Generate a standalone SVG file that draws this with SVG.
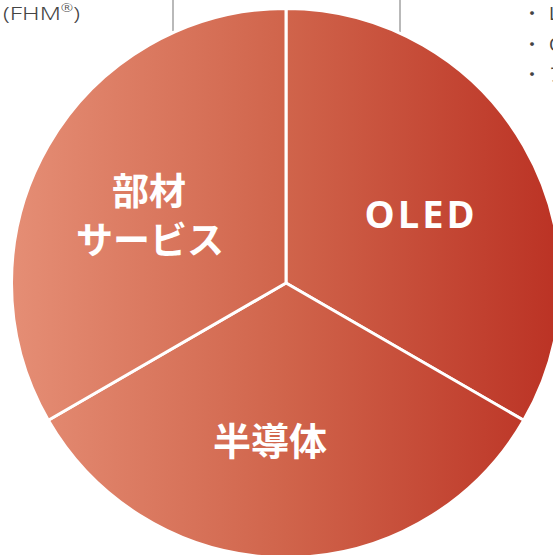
<svg xmlns="http://www.w3.org/2000/svg" width="553" height="555" viewBox="0 0 553 555">
<defs>
<linearGradient id="g" gradientUnits="userSpaceOnUse" x1="11" y1="0" x2="561" y2="0">
<stop offset="0" stop-color="#e58e75"/>
<stop offset="0.5" stop-color="#d0644b"/>
<stop offset="1" stop-color="#bb3224"/>
</linearGradient>
</defs>
<style>
.sec{fill:url(#g);stroke:#fff;stroke-width:3;stroke-linejoin:miter}
.lbl{fill:#fff;font-family:"Noto Sans CJK JP","Noto Sans",sans-serif;font-weight:bold;text-anchor:middle}
.note{fill:#444;font-family:"Noto Sans","Noto Sans CJK JP",sans-serif;font-size:18px}
.lead{stroke:#8a8a8a;stroke-width:1.2}
</style>
<g id="leaders">
<line class="lead" x1="173" y1="0" x2="173" y2="31"/>
<line class="lead" x1="400" y1="0" x2="400" y2="32"/>
</g>
<g id="note-left">
<text class="note" x="3" y="20" font-size="20" font-weight="300" textLength="77" lengthAdjust="spacingAndGlyphs">(FHM<tspan font-size="11" dy="-8">®</tspan><tspan dy="8">)</tspan></text>
</g>
<g id="note-right">
<text class="note" x="523" y="20">・</text><text class="note" x="549" y="20">L</text>
<text class="note" x="523" y="51">・</text><text class="note" x="549" y="51">O</text>
<text class="note" x="523" y="81">・</text><text class="note" x="549" y="81">ア</text>
</g>
<g id="sector-oled">
<path class="sec" d="M286,283 L286,8.5 A274.5,274.5 0 0 1 523.7,420.3 Z"/>
<text class="lbl" x="421" y="228" font-size="38" font-weight="500" letter-spacing="3" style="font-family:'Open Sans','Liberation Sans',sans-serif">OLED</text>
</g>
<g id="sector-semi">
<path class="sec" d="M286,283 L523.7,420.3 A274.5,274.5 0 0 1 48.3,420.3 Z"/>
<text class="lbl" x="270" y="455" font-size="38">半導体</text>
</g>
<g id="sector-parts">
<path class="sec" d="M286,283 L48.3,420.3 A274.5,274.5 0 0 1 286,8.5 Z"/>
<text class="lbl" x="149" y="205" font-size="37">部材</text>
<text class="lbl" x="150" y="254" font-size="37">サービス</text>
</g>
</svg>
